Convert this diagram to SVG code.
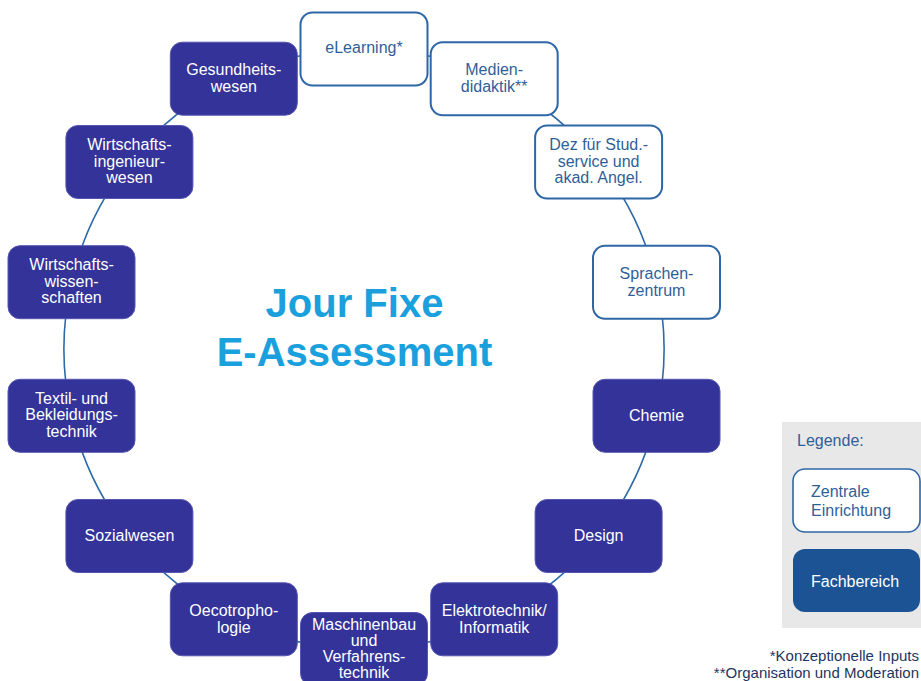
<svg xmlns="http://www.w3.org/2000/svg" width="921" height="681" viewBox="0 0 921 681">
<style>
.dark rect{fill:#333399;stroke:#5656b0;stroke-width:1}
.light rect{fill:#ffffff;stroke:#2e67a6;stroke-width:2}
text{font-family:"Liberation Sans",Arial,sans-serif;font-size:16px;text-anchor:middle}
.dark text{fill:#ffffff}
.light text{fill:#2f5f98}
.conn path{fill:none;stroke:#2e6aa6;stroke-width:1.6}
.title{font-size:40px;font-weight:bold;fill:#1aa0dc}
.foot{text-anchor:end;fill:#1f3560;font-size:15px}
</style>
<rect width="921" height="681" fill="#ffffff"/>
<g id="connectors" class="conn">
<path d="M364 49 A300 300 0 0 1 494.2 78.7"/>
<path d="M494.2 78.7 A300 300 0 0 1 598.6 162"/>
<path d="M598.6 162 A300 300 0 0 1 656.5 282.2"/>
<path d="M656.5 282.2 A300 300 0 0 1 656.5 415.8"/>
<path d="M656.5 415.8 A300 300 0 0 1 598.6 536"/>
<path d="M598.6 536 A300 300 0 0 1 494.2 619.3"/>
<path d="M494.2 619.3 A300 300 0 0 1 364 649"/>
<path d="M364 649 A300 300 0 0 1 233.8 619.3"/>
<path d="M233.8 619.3 A300 300 0 0 1 129.4 536"/>
<path d="M129.4 536 A300 300 0 0 1 71.5 415.8"/>
<path d="M71.5 415.8 A300 300 0 0 1 71.5 282.2"/>
<path d="M71.5 282.2 A300 300 0 0 1 129.4 162"/>
<path d="M129.4 162 A300 300 0 0 1 233.8 78.7"/>
<path d="M233.8 78.7 A300 300 0 0 1 364 49"/>
</g>
<g id="elearning" class="light" transform="translate(364,49)">
<rect x="-63.5" y="-36.5" width="127" height="73" rx="12"/>
<text y="4">eLearning*</text>
</g>
<g id="mediendidaktik" class="light" transform="translate(494.2,78.7)">
<rect x="-63.5" y="-36.5" width="127" height="73" rx="12"/>
<text y="-3.5">Medien-</text><text y="13.5">didaktik**</text>
</g>
<g id="dez" class="light" transform="translate(598.6,162)">
<rect x="-63.5" y="-36.5" width="127" height="73" rx="12"/>
<text y="-12">Dez für Stud.-</text><text y="4.5">service und</text><text y="21">akad. Angel.</text>
</g>
<g id="sprachenzentrum" class="light" transform="translate(656.5,282.2)">
<rect x="-63.5" y="-36.5" width="127" height="73" rx="12"/>
<text y="-3.5">Sprachen-</text><text y="13.5">zentrum</text>
</g>
<g id="chemie" class="dark" transform="translate(656.5,415.8)">
<rect x="-63.5" y="-36.5" width="127" height="73" rx="12"/>
<text y="5">Chemie</text>
</g>
<g id="design" class="dark" transform="translate(598.6,536)">
<rect x="-63.5" y="-36.5" width="127" height="73" rx="12"/>
<text y="5">Design</text>
</g>
<g id="elektrotechnik" class="dark" transform="translate(494.2,619.3)">
<rect x="-63.5" y="-36.5" width="127" height="73" rx="12"/>
<text y="-3.5">Elektrotechnik/</text><text y="13.5">Informatik</text>
</g>
<g id="maschinenbau" class="dark" transform="translate(364,649)">
<rect x="-63.5" y="-36.5" width="127" height="73" rx="12"/>
<text y="-19">Maschinenbau</text><text y="-3">und</text><text y="13">Verfahrens-</text><text y="29">technik</text>
</g>
<g id="oecotrophologie" class="dark" transform="translate(233.8,619.3)">
<rect x="-63.5" y="-36.5" width="127" height="73" rx="12"/>
<text y="-3.5">Oecotropho-</text><text y="13.5">logie</text>
</g>
<g id="sozialwesen" class="dark" transform="translate(129.4,536)">
<rect x="-63.5" y="-36.5" width="127" height="73" rx="12"/>
<text y="5">Sozialwesen</text>
</g>
<g id="textil" class="dark" transform="translate(71.5,415.8)">
<rect x="-63.5" y="-36.5" width="127" height="73" rx="12"/>
<text y="-12">Textil- und</text><text y="4.5">Bekleidungs-</text><text y="21">technik</text>
</g>
<g id="wirtschaftswissenschaften" class="dark" transform="translate(71.5,282.2)">
<rect x="-63.5" y="-36.5" width="127" height="73" rx="12"/>
<text y="-12">Wirtschafts-</text><text y="4.5">wissen-</text><text y="21">schaften</text>
</g>
<g id="wirtschaftsingenieurwesen" class="dark" transform="translate(129.4,162)">
<rect x="-63.5" y="-36.5" width="127" height="73" rx="12"/>
<text y="-12">Wirtschafts-</text><text y="4.5">ingenieur-</text><text y="21">wesen</text>
</g>
<g id="gesundheitswesen" class="dark" transform="translate(233.8,78.7)">
<rect x="-63.5" y="-36.5" width="127" height="73" rx="12"/>
<text y="-3.5">Gesundheits-</text><text y="13.5">wesen</text>
</g>
<g id="title">
<text class="title" x="354.5" y="317">Jour Fixe</text>
<text class="title" x="354.5" y="366">E-Assessment</text>
</g>
<g id="legend">
<rect x="782" y="422" width="145" height="206" fill="#e8e8e8"/>
<text x="797" y="446" style="text-anchor:start;fill:#2f5f98">Legende:</text>
<g class="light">
<rect x="793" y="469" width="127" height="63" rx="12" style="stroke-width:1.6"/>
<text x="811" y="497" style="text-anchor:start">Zentrale</text>
<text x="811" y="516" style="text-anchor:start">Einrichtung</text>
</g>
<g>
<rect x="793" y="549" width="127" height="63" rx="12" fill="#1b5394"/>
<text x="811" y="587" style="text-anchor:start;fill:#ffffff">Fachbereich</text>
</g>
</g>
<g id="footnotes">
<text class="foot" x="919" y="661">*Konzeptionelle Inputs</text>
<text class="foot" x="919" y="678">**Organisation und Moderation</text>
</g>
</svg>
